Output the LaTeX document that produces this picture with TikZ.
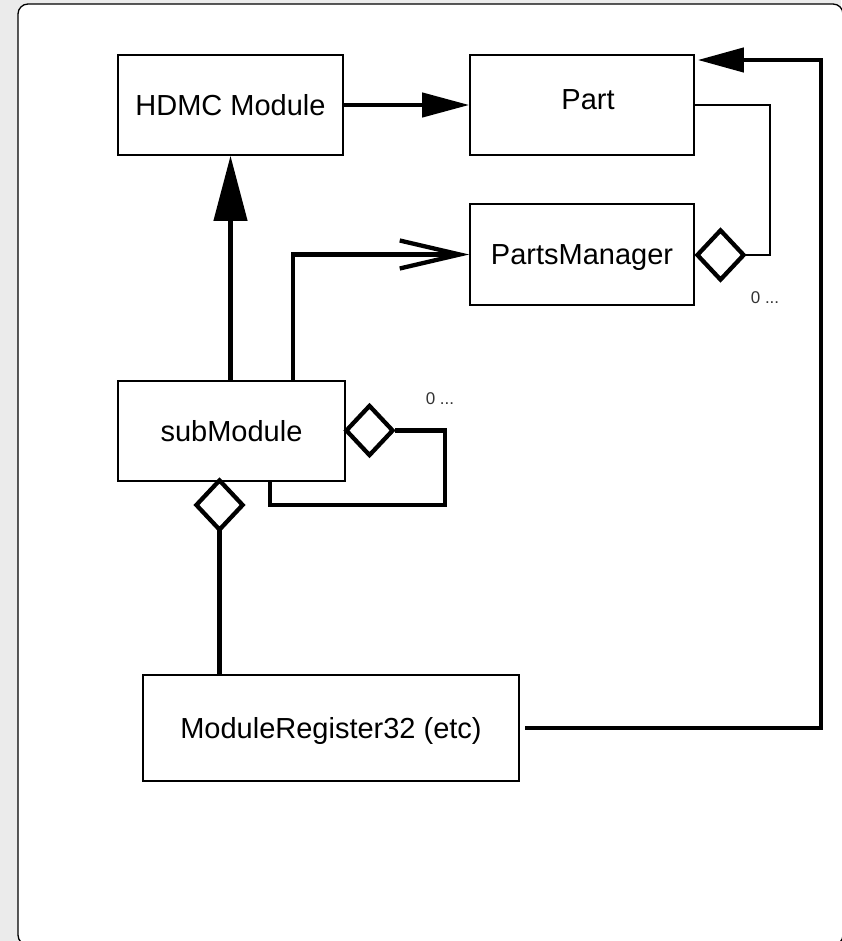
\documentclass[tikz,border=0pt]{standalone}
\usepackage{fontspec}
\setmainfont{Liberation Sans}
\usetikzlibrary{arrows.meta,shapes.geometric,calc}
\begin{document}
\begin{tikzpicture}[x=1pt,y=-1pt,
  box/.style={draw=black,line width=1.6pt,fill=white,rectangle,inner sep=0pt,
    text depth=0pt,font=\fontsize{29}{34}\selectfont},
  agg/.style={draw=black,line width=4.3pt,fill=white,diamond,inner sep=0pt,
    minimum width=48pt,minimum height=51pt},
  thick line/.style={line width=4.3pt,line join=miter},
  thin line/.style={line width=2.6pt,line join=miter},
  mult/.style={font=\fontsize{17}{20}\selectfont,text=black!80,inner sep=0pt}]
\useasboundingbox (0,0) rectangle (841,941);
\fill[black!8] (0,0) rectangle (841,941);
\draw[fill=white,line width=1.3pt,rounded corners=10pt] (18,4) rectangle (843,945);

% classes
\node[box,minimum width=225pt,minimum height=100pt] (hdmc) at (230.5,105) {HDMC Module};
\node[box,minimum width=224pt,minimum height=100pt] (part) at (582,105) {};
\node[font=\fontsize{29}{34}\selectfont,inner sep=0pt,text depth=0pt] (parttext) at (588,100) {Part};
\node[box,minimum width=224pt,minimum height=101pt] (pm) at (582,254.5) {PartsManager};
\node[box,minimum width=227pt,minimum height=100pt] (sub) at (231.5,431) {subModule};
\node[box,minimum width=376pt,minimum height=106pt] (mr) at (331,728) {ModuleRegister32 (etc)};

% helper coordinates
\coordinate (c1) at (821,60);
\coordinate (c2) at (770,106);
\coordinate (c3) at (445,505);
\coordinate (mrstart) at (525,728);

% connectors
\draw[thick line,-{Triangle[length=47pt,width=24pt]}] (hdmc.east) -- (part.west);
\draw[thick line,-{Triangle[length=65pt,width=33pt]}] (sub.north -| hdmc.south) -- (hdmc.south);
\draw[thick line,-{Triangle[length=46pt,width=24pt]}] (mrstart) -| (c1) -- ($(part.east |- c1)+(3,0)$);
\draw[thick line,-{Straight Barb[length=60pt,width=28pt]}] ([xshift=61.5pt]sub.north) |- (pm.west);
\draw[thin line] (part.east) -| (c2) |- (720,255);
\draw[thick line] (395,430.5) -| (c3) -| ([xshift=38.5pt]sub.south);
\draw[thick line] (219.5,520) -- (219.5,675);

% aggregation diamonds
\node[agg] (d1) at (720.5,255) {};
\node[agg] (d2) at (369.5,430.5) {};
\node[agg] (d3) at (219.5,505) {};

% multiplicities
\node[mult] (m1) at (765,298) {0 ...};
\node[mult] (m2) at (440,399) {0 ...};
\end{tikzpicture}
\end{document}
